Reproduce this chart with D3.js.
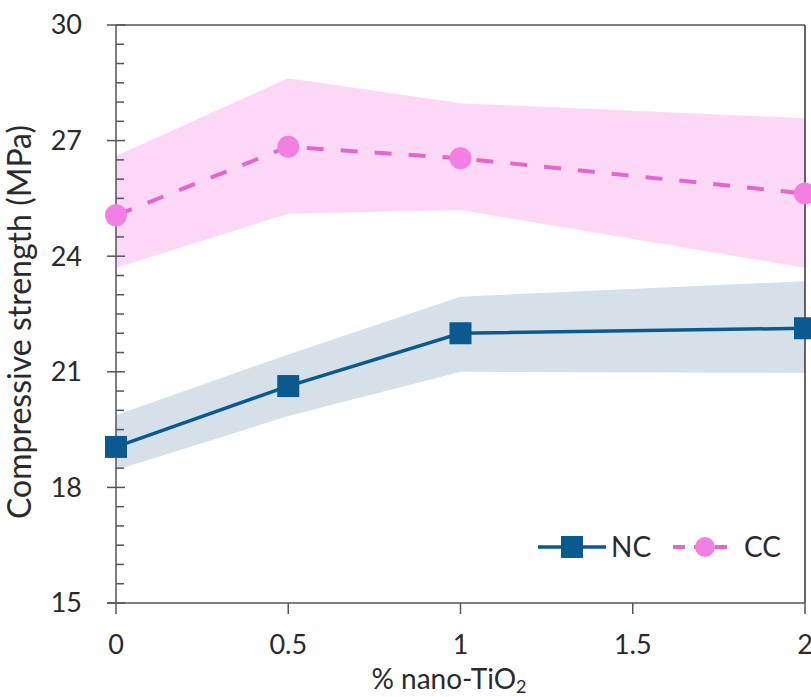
<!DOCTYPE html>
<html>
<head>
<meta charset="utf-8">
<script src="https://cdn.jsdelivr.net/npm/d3@7/dist/d3.min.js"></script>
<style>
  html, body { margin: 0; padding: 0; background: #fff; }
  svg { display: block; }
  text { font-family: Lato, "Open Sans", sans-serif; fill: #2a2a2a; }
</style>
</head>
<body>
<svg id="chart" width="811" height="697"></svg>
<script>
const xValues = [0, 0.5, 1, 2];
const ncMean = [19.05, 20.63, 22.0, 22.13];
const ncUpper = [19.87, 21.45, 22.95, 23.35];
const ncLower = [18.45, 19.85, 21.0, 20.97];
const ccMean = [25.06, 26.84, 26.54, 25.63];
const ccUpper = [26.6, 28.62, 27.97, 27.58];
const ccLower = [23.7, 25.1, 25.2, 23.7];
const xTicks = [0, 0.5, 1, 1.5, 2];
const yTicks = [15, 18, 21, 24, 27, 30];
const seriesNames = ["NC", "CC"];

(function () {
const svg = d3.select("#chart");
const pL = 116, pR = 805, pT = 25, pB = 603;
const x = d3.scaleLinear().domain([0, 2]).range([pL, pR]);
const y = d3.scaleLinear().domain([15, 30]).range([pB, pT]);

const ncColor = "#0b5a8f", ncBand = "#d5e0e9";
const ccColor = "#f27fe2", ccLine = "#e466cc", ccBand = "#fdd8f6";
const axisColor = "#555";

function rows(mean, up, lo) {
  return xValues.map((v, i) => ({ x: v, m: mean[i], u: up[i], l: lo[i] }));
}
const nc = rows(ncMean, ncUpper, ncLower);
const cc = rows(ccMean, ccUpper, ccLower);

const area = d3.area().x(d => x(d.x)).y0(d => y(d.l)).y1(d => y(d.u));
const line = d3.line().x(d => x(d.x)).y(d => y(d.m));

svg.append("path").datum(cc).attr("d", area).attr("fill", ccBand);
svg.append("path").datum(nc).attr("d", area).attr("fill", ncBand);

// frame: top and right
svg.append("line").attr("x1", pL).attr("x2", pR).attr("y1", pT).attr("y2", pT)
  .attr("stroke", axisColor).attr("stroke-width", 1.5);
svg.append("line").attr("x1", pR).attr("x2", pR).attr("y1", pT).attr("y2", pB)
  .attr("stroke", "#333").attr("stroke-width", 1.5);

// y axis
const yMinor = d3.range(15, 30.01, 0.5).filter(v => Math.abs(v % 3) > 1e-6);
const yAxisG = svg.append("g");
yAxisG.append("line").attr("x1", pL).attr("x2", pL).attr("y1", pT).attr("y2", pB)
  .attr("stroke", axisColor).attr("stroke-width", 1.5);
yAxisG.selectAll(".minor").data(yMinor).join("line")
  .attr("x1", pL).attr("x2", pL + 8).attr("y1", d => y(d)).attr("y2", d => y(d))
  .attr("stroke", axisColor).attr("stroke-width", 1.5);
yAxisG.selectAll(".major").data(yTicks).join("line")
  .attr("x1", pL - 9).attr("x2", pL + 9).attr("y1", d => y(d)).attr("y2", d => y(d))
  .attr("stroke", axisColor).attr("stroke-width", 1.5);
yAxisG.selectAll("text").data(yTicks).join("text")
  .attr("x", 82).attr("y", d => y(d)).attr("dy", "0.35em")
  .attr("text-anchor", "end").attr("font-size", 27).text(d => d);

// x axis
const xAxisG = svg.append("g");
xAxisG.append("line").attr("x1", pL - 9).attr("x2", pR).attr("y1", pB).attr("y2", pB)
  .attr("stroke", axisColor).attr("stroke-width", 1.5);
xAxisG.selectAll(".tick").data(xTicks).join("line")
  .attr("x1", d => x(d)).attr("x2", d => x(d)).attr("y1", pB).attr("y2", pB + 11)
  .attr("stroke", axisColor).attr("stroke-width", 1.5);
xAxisG.selectAll("text").data(xTicks).join("text")
  .attr("x", d => x(d)).attr("y", 645).attr("dy", "0.35em")
  .attr("text-anchor", "middle").attr("font-size", 27).text(d => d);

// axis titles
const xt = svg.append("text").attr("x", 449).attr("y", 689).attr("text-anchor", "middle").attr("font-size", 28);
xt.append("tspan").text("% nano-TiO");
xt.append("tspan").attr("font-size", 18).attr("dy", 4).text("2");

svg.append("text").attr("transform", "translate(31,322) rotate(-90)")
  .attr("text-anchor", "middle").attr("font-size", 32).text("Compressive strength (MPa)");

// lines
svg.append("path").datum(cc).attr("d", line).attr("fill", "none")
  .attr("stroke", ccLine).attr("stroke-width", 4).attr("stroke-dasharray", "17,17");
svg.append("path").datum(nc).attr("d", line).attr("fill", "none")
  .attr("stroke", ncColor).attr("stroke-width", 3.5);

// markers
svg.selectAll(".ccpt").data(cc).join("circle")
  .attr("cx", d => x(d.x)).attr("cy", d => y(d.m)).attr("r", 11).attr("fill", ccColor);
svg.selectAll(".ncpt").data(nc).join("rect")
  .attr("x", d => x(d.x) - 11).attr("y", d => y(d.m) - 11).attr("width", 22).attr("height", 22)
  .attr("fill", ncColor);

// legend
const ly = 547;
const lg = svg.append("g");
lg.append("line").attr("x1", 538).attr("x2", 606).attr("y1", ly).attr("y2", ly)
  .attr("stroke", ncColor).attr("stroke-width", 3.5);
lg.append("rect").attr("x", 572 - 11).attr("y", ly - 11).attr("width", 22).attr("height", 22).attr("fill", ncColor);
lg.append("text").attr("x", 611).attr("y", ly).attr("dy", "0.35em").attr("font-size", 28).text(seriesNames[0]);
lg.append("line").attr("x1", 673).attr("x2", 728).attr("y1", ly).attr("y2", ly)
  .attr("stroke", ccLine).attr("stroke-width", 4).attr("stroke-dasharray", "12,9");
lg.append("circle").attr("cx", 705).attr("cy", ly).attr("r", 10).attr("fill", ccColor);
lg.append("text").attr("x", 744).attr("y", ly).attr("dy", "0.35em").attr("font-size", 28).text(seriesNames[1]);
})();
</script>
</body>
</html>
